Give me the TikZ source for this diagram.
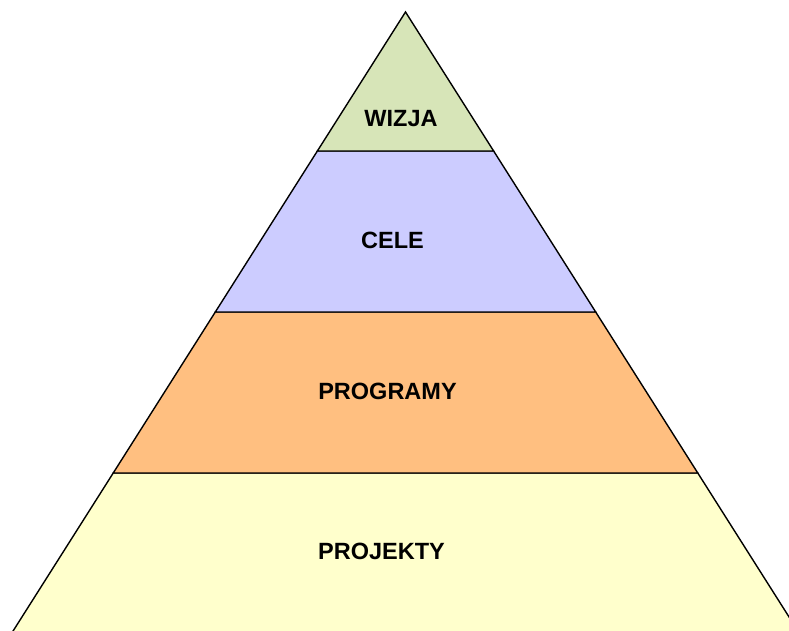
\documentclass[tikz,border=0pt]{standalone}
\usepackage{fontspec}
\setmainfont{Liberation Sans}
\usetikzlibrary{calc}

\definecolor{wizjagreen}{HTML}{D7E5B8}
\definecolor{celeblue}{HTML}{CCCCFF}
\definecolor{programyorange}{HTML}{FFBF80}
\definecolor{projektyyellow}{HTML}{FFFFCC}

\tikzset{
  layer/.style={draw=black,line width=1.4pt,line join=miter},
  layerlabel/.style={font=\fontsize{23.5}{28}\selectfont\bfseries,inner sep=0pt}
}

\begin{document}
\begin{tikzpicture}[x=1pt,y=1pt]

  \useasboundingbox (0,0) rectangle (789,631);
  \clip (0,0) rectangle (789,631);

  % corners of the whole pyramid (base lies just below the page)
  \coordinate (apex) at (405.5,619);
  \coordinate (BL) at (9.9,-5);
  \coordinate (BR) at (801.1,-5);

  % band edges on both sides
  \coordinate (L1) at ($(apex)!0.2228!(BL)$);
  \coordinate (R1) at ($(apex)!0.2228!(BR)$);
  \coordinate (L2) at ($(apex)!0.4808!(BL)$);
  \coordinate (R2) at ($(apex)!0.4808!(BR)$);
  \coordinate (L3) at ($(apex)!0.7388!(BL)$);
  \coordinate (R3) at ($(apex)!0.7388!(BR)$);

  % the four layers
  \draw [layer,fill=projektyyellow] (L3) -- (R3) -- (BR) -- (BL) -- cycle;
  \draw [layer,fill=programyorange] (L2) -- (R2) -- (R3) -- (L3) -- cycle;
  \draw [layer,fill=celeblue] (L1) -- (R1) -- (R2) -- (L2) -- cycle;
  \draw [layer,fill=wizjagreen] (apex) -- (R1) -- (L1) -- cycle;

  \node [layerlabel] at (401,512) (wizja) {WIZJA};
  \node [layerlabel] at (392.5,390.5) (cele) {CELE};
  \node [layerlabel] at (387.5,239.5) (programy) {PROGRAMY};
  \node [layerlabel] at (381.5,80) (projekty) {PROJEKTY};

\end{tikzpicture}
\end{document}
